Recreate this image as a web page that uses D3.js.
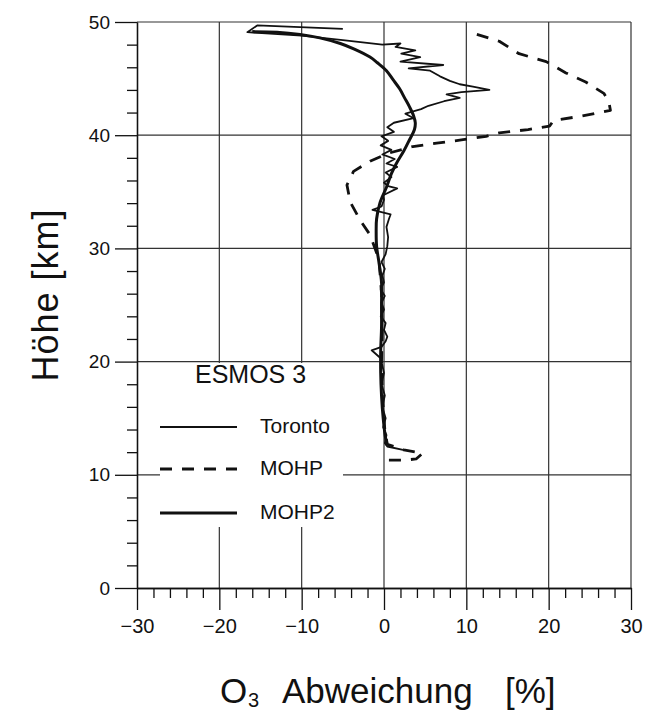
<!DOCTYPE html>
<html>
<head>
<meta charset="utf-8">
<script src="https://cdn.jsdelivr.net/npm/d3@7"></script>
<style>
  html, body { margin: 0; padding: 0; background: #fff; }
  svg { display: block; }
</style>
</head>
<body>
<div id="wrapper"></div>
<script>
// tick values / labels
const xMajor = [-30, -20, -10, 0, 10, 20, 30]
const xLabels = ['−30', '−20', '−10', '0', '10', '20', '30']
const yMajor = [0, 10, 20, 30, 40, 50]
const yLabels = ['0', '10', '20', '30', '40', '50']
const xMinor = [-28, -26, -24, -22, -18, -16, -14, -12, -8, -6, -4, -2, 2, 4, 6, 8, 12, 14, 16, 18, 22, 24, 26, 28]
const yMinor = [2, 4, 6, 8, 12, 14, 16, 18, 22, 24, 26, 28, 32, 34, 36, 38, 42, 44, 46, 48]

// series: [height km, O3 deviation %]
const toronto = [
  [12.2, 2.3], [12.5, 0.4], [12.8, 0.1], [13.5, 0.3], [14.2, -0.1], [15.0, 0.2], [16.0, -0.2],
  [17.0, 0.1], [18.0, -0.3], [19.0, 0.0], [20.3, -0.4], [21.0, -1.5], [21.3, -0.3], [21.8, 0.2],
  [22.2, 0.4], [22.8, 0.0], [23.4, 0.2], [24.0, -0.4], [24.6, 0.0], [25.2, -0.3], [25.8, 0.1],
  [26.4, -0.4], [27.0, 0.0], [27.6, -0.2], [28.2, 0.1], [28.8, -0.3], [29.5, 0.2], [30.2, 0.4],
  [31.0, 0.5], [31.9, 0.3], [32.6, 0.6], [33.0, 0.8], [33.4, -1.4], [33.7, -0.3], [34.3, 0.0],
  [34.7, -0.1], [35.3, 1.6], [35.5, 0.5], [35.8, 0.0], [36.3, 0.9], [36.7, 0.2], [37.2, 1.6],
  [37.5, 0.3], [37.9, 1.3], [38.3, -0.2], [38.7, 0.9], [39.1, -0.4], [39.5, 0.5], [39.9, -0.3],
  [40.3, 1.2], [40.7, 0.4], [41.1, 1.2], [41.5, 3.6], [41.9, 2.6], [42.3, 4.5], [42.6, 5.4],
  [43.0, 7.3], [43.3, 9.2], [43.6, 7.6], [43.8, 9.4], [44.0, 12.8], [44.3, 10.8], [44.5, 9.2],
  [44.8, 8.0], [45.2, 6.8], [45.7, 5.6], [45.9, 3.0], [46.2, 7.2], [46.5, 2.0], [46.9, 4.4],
  [47.2, 2.1], [47.5, 3.8], [47.8, 1.4], [48.1, 2.0], [48.0, -0.2], [48.4, -5.0], [48.8, -10.0],
  [49.1, -16.6], [49.7, -15.4], [49.4, -5.0]
]
const mohp = [
  [11.3, 0.6], [11.3, 2.6], [11.4, 3.9], [11.9, 4.7], [12.2, 2.4], [12.7, 0.4], [14.0, 0.1],
  [17.0, -0.2], [20.0, -0.3], [23.0, -0.2], [26.0, -0.3], [29.0, -0.6], [31.2, -1.7], [32.5, -2.9],
  [34.1, -4.1], [35.6, -4.5], [36.8, -3.7], [37.7, -1.7], [38.4, 0.5], [39.0, 3.5], [39.3, 6.4],
  [39.6, 9.6], [39.9, 12.4], [40.2, 14.0], [40.5, 17.5], [40.8, 20.1], [41.3, 20.6], [41.7, 24.1],
  [42.2, 27.5], [43.0, 27.3], [43.7, 26.7], [44.7, 24.5], [45.5, 22.1], [46.5, 19.7], [47.2, 16.4],
  [48.3, 14.0], [49.1, 10.4]
]
const mohp2 = [
  [12.6, 0.4], [13.2, 0.2], [15.0, -0.1], [17.0, -0.3], [19.0, -0.4], [21.0, -0.4], [23.0, -0.3],
  [25.0, -0.3], [27.0, -0.3], [28.7, -0.6], [30.2, -0.9], [31.6, -0.95], [32.6, -0.9], [34.0, -0.5],
  [35.4, 0.3], [36.6, 0.9], [37.5, 1.5], [38.6, 2.4], [39.6, 3.1], [40.5, 3.7], [41.1, 3.8],
  [41.7, 3.6], [42.5, 3.1], [43.3, 2.5], [44.1, 1.9], [44.9, 1.1], [45.7, 0.3], [46.4, -0.8],
  [46.9, -1.7], [47.6, -3.6], [48.1, -5.3], [48.6, -7.8], [48.9, -10.2], [49.1, -13.0], [49.15, -16.0]
]

const legendNames = ['Toronto', 'MOHP', 'MOHP2']

const width = 649
const height = 711
const ink = '#111'
const font = '"Liberation Sans", Arial, sans-serif'

const x = d3.scaleLinear().domain([-30, 30]).range([137, 631])
const y = d3.scaleLinear().domain([0, 50]).range([588, 22])

const svg = d3.select('#wrapper').append('svg')
  .attr('width', width)
  .attr('height', height)
  .style('font-family', font)

svg.append('rect').attr('width', width).attr('height', height).attr('fill', '#fff')

// grid
svg.append('g').selectAll('line').data(xMajor.slice(1)).join('line')
  .attr('x1', d => x(d)).attr('x2', d => x(d))
  .attr('y1', y(0)).attr('y2', y(50))
  .attr('stroke', '#333').attr('stroke-width', 1.2)
svg.append('g').selectAll('line').data(yMajor.slice(1)).join('line')
  .attr('x1', x(-30)).attr('x2', x(30))
  .attr('y1', d => y(d)).attr('y2', d => y(d))
  .attr('stroke', '#333').attr('stroke-width', 1.2)

// axes
const bottomMinor = svg.append('g').attr('transform', 'translate(0,' + y(0) + ')')
  .call(d3.axisBottom(x).tickValues(xMinor).tickSize(10).tickSizeOuter(0).tickFormat(''))
const bottomMajor = svg.append('g').attr('transform', 'translate(0,' + y(0) + ')')
  .call(d3.axisBottom(x).tickValues(xMajor).tickSize(22).tickSizeOuter(0).tickPadding(9)
    .tickFormat((d, i) => xLabels[i]))
const leftMinor = svg.append('g').attr('transform', 'translate(' + x(-30) + ',0)')
  .call(d3.axisLeft(y).tickValues(yMinor).tickSize(10).tickSizeOuter(0).tickFormat(''))
const leftMajor = svg.append('g').attr('transform', 'translate(' + x(-30) + ',0)')
  .call(d3.axisLeft(y).tickValues(yMajor).tickSize(22).tickSizeOuter(0).tickPadding(5)
    .tickFormat((d, i) => yLabels[i]))

;[bottomMinor, bottomMajor, leftMinor, leftMajor].forEach(g => {
  g.selectAll('path, line').attr('stroke', ink).attr('stroke-width', 1.3)
  g.selectAll('text').attr('fill', ink).style('font-family', font)
})
bottomMajor.selectAll('text').style('font-size', '20px')
leftMajor.selectAll('text').style('font-size', '19px')

// legend (white box covers the grid)
svg.append('rect').attr('x', 160).attr('y', 363).attr('width', 183).attr('height', 164).attr('fill', '#fff')
svg.append('text').attr('x', 195).attr('y', 383).text('ESMOS 3')
  .attr('fill', ink).style('font-size', '25px')

const legendStyle = [
  { w: 1.8, dash: null, ly: 427 },
  { w: 2.8, dash: '12,10', ly: 469 },
  { w: 3.2, dash: null, ly: 513 }
]
const legend = svg.append('g').selectAll('g').data(legendNames).join('g')
legend.append('line')
  .attr('x1', 160).attr('x2', 237)
  .attr('y1', (d, i) => legendStyle[i].ly).attr('y2', (d, i) => legendStyle[i].ly)
  .attr('stroke', ink)
  .attr('stroke-width', (d, i) => legendStyle[i].w)
  .attr('stroke-dasharray', (d, i) => legendStyle[i].dash)
legend.append('text')
  .attr('x', 260).attr('y', (d, i) => legendStyle[i].ly + 6)
  .text(d => d).attr('fill', ink).style('font-size', '21px')

// profiles
const line = d3.line().x(d => x(d[1])).y(d => y(d[0])).curve(d3.curveLinear)
const smooth = d3.line().x(d => x(d[1])).y(d => y(d[0])).curve(d3.curveCatmullRom)

svg.append('path').datum(mohp).attr('d', line)
  .attr('fill', 'none').attr('stroke', ink).attr('stroke-width', 2.8)
  .attr('stroke-dasharray', '12,10').attr('stroke-linejoin', 'round')
svg.append('path').datum(toronto).attr('d', line)
  .attr('fill', 'none').attr('stroke', ink).attr('stroke-width', 1.8)
  .attr('stroke-linejoin', 'round')
svg.append('path').datum(mohp2).attr('d', smooth)
  .attr('fill', 'none').attr('stroke', ink).attr('stroke-width', 3)
  .attr('stroke-linejoin', 'round')

// axis titles
svg.append('text')
  .attr('transform', 'translate(58,295) rotate(-90)')
  .attr('text-anchor', 'middle')
  .attr('fill', ink)
  .style('font-size', '36px').style('letter-spacing', '1px')
  .text('Höhe [km]')

const xt = svg.append('g').attr('fill', ink)
xt.append('text').attr('x', 220).attr('y', 703).style('font-size', '35px').text('O')
xt.append('text').attr('x', 248).attr('y', 707).style('font-size', '20px').text('3')
xt.append('text').attr('x', 282).attr('y', 703).style('font-size', '35px').text('Abweichung')
xt.append('text').attr('x', 505).attr('y', 703).style('font-size', '35px').text('[%]')
</script>
</body>
</html>
